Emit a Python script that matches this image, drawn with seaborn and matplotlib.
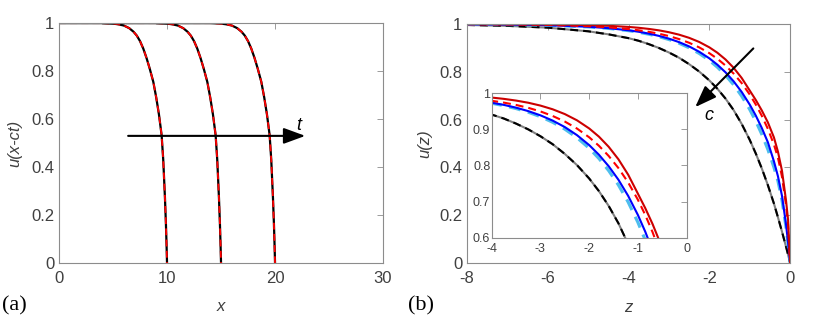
import numpy as np
import pandas as pd
import matplotlib
matplotlib.use("Agg")
import matplotlib.pyplot as plt
import seaborn as sns

### Data ###
# panel (a): one front profile, shifted to three front positions
front_positions = [10, 15, 20]
profile_z = [-20, -6, -5, -4.5, -4, -3.5, -3.1, -2.8, -2.5, -2.2, -1.9, -1.6,
             -1.27, -1.0, -0.75, -0.5, -0.35, -0.19, -0.1, -0.04, 0]
profile_u = [1.0, 1.0, 0.998, 0.995, 0.99, 0.979, 0.964, 0.948, 0.925, 0.894, 0.855, 0.81,
             0.755, 0.69, 0.62, 0.533, 0.43, 0.27, 0.16, 0.07, 0.0]

# panel (b): travelling wave profiles u(z) for three speeds c
z_b = [-8, -7, -6, -5, -4.5, -4, -3.75, -3.5, -3.25, -3, -2.75, -2.5, -2.25, -2,
       -1.8, -1.6, -1.4, -1.2, -1.0, -0.85, -0.7, -0.55, -0.4, -0.3, -0.2, -0.1, -0.05, 0]
u_red = [0.9998, 0.9995, 0.9985, 0.9958, 0.9929, 0.9881, 0.9845, 0.9798, 0.9738, 0.9659, 0.9557,
         0.9424, 0.9251, 0.9026, 0.8799, 0.8518, 0.8172, 0.7745, 0.7218, 0.682, 0.638, 0.588,
         0.525, 0.465, 0.385, 0.26, 0.18, 0.0]
u_red_dash = [0.9994, 0.9985, 0.9964, 0.9914, 0.9866, 0.9792, 0.9741, 0.9677, 0.9597, 0.9497, 0.9372,
              0.9217, 0.9023, 0.8781, 0.8546, 0.8264, 0.7929, 0.7529, 0.705, 0.6631, 0.6155, 0.5609,
              0.495, 0.44, 0.36, 0.24, 0.16, 0.0]
u_blue = [0.9991, 0.998, 0.9953, 0.9889, 0.983, 0.974, 0.9678, 0.9601, 0.9506, 0.9389, 0.9244, 0.9064,
          0.884, 0.8565, 0.8297, 0.798, 0.7605, 0.7158, 0.6628, 0.6168, 0.5644, 0.5048, 0.425, 0.362,
          0.28, 0.16, 0.085, 0.0]
u_blue_dash = [0.999, 0.9979, 0.995, 0.9882, 0.982, 0.9724, 0.9658, 0.9577, 0.9476, 0.9352, 0.9198,
               0.9007, 0.877, 0.8478, 0.8194, 0.7858, 0.746, 0.6986, 0.6424, 0.5936, 0.538, 0.4748,
               0.40, 0.342, 0.262, 0.148, 0.078, 0.0]
u_gray = [0.9963, 0.9926, 0.985, 0.9698, 0.9571, 0.941, 0.930, 0.916, 0.90, 0.881, 0.859, 0.832, 0.801,
          0.764, 0.729, 0.688, 0.64, 0.582, 0.515, 0.458, 0.395, 0.325, 0.248, 0.19, 0.13, 0.067,
          0.034, 0.0]

# ticks
a_xticks = [0, 10, 20, 30]
a_xlabels = ["0", "10", "20", "30"]
unit_yticks = [0, 0.2, 0.4, 0.6, 0.8, 1]
unit_ylabels = ["0", "0.2", "0.4", "0.6", "0.8", "1"]
b_xticks = [-8, -6, -4, -2, 0]
b_xlabels = ["-8", "-6", "-4", "-2", "0"]
in_xticks = [-4, -3, -2, -1, 0]
in_xlabels = ["-4", "-3", "-2", "-1", "0"]
in_yticks = [0.6, 0.7, 0.8, 0.9, 1]
in_ylabels = ["0.6", "0.7", "0.8", "0.9", "1"]

sns.set_theme(style="white")
plt.rcParams["font.family"] = ["Liberation Sans", "DejaVu Sans"]

SPINE = "#8c8c8c"
TXT = "#404040"
DASH = (0, (3.8, 2.4))


def style_axes(ax, size, xpad, ypad):
    for s in ax.spines.values():
        s.set_color(SPINE)
        s.set_linewidth(0.8)
        s.set_visible(True)
    ax.tick_params(direction="in", top=True, right=True, length=4, width=0.6,
                   color=SPINE, labelcolor=TXT, labelsize=size)
    ax.tick_params(axis="x", pad=xpad)
    ax.tick_params(axis="y", pad=ypad)
    ax.grid(False)
    ax.set_xlabel("")
    ax.set_ylabel("")


def draw_b_curves(ax, lw):
    sns.lineplot(x=z_b, y=u_gray, ax=ax, color="#808080", lw=lw, estimator=None, sort=False)
    sns.lineplot(x=z_b, y=u_gray, ax=ax, color="black", lw=lw, linestyle=DASH,
                 estimator=None, sort=False)
    sns.lineplot(x=z_b, y=u_blue_dash, ax=ax, color="#4DBEEE", lw=lw * 1.5, linestyle=DASH,
                 estimator=None, sort=False)
    sns.lineplot(x=z_b, y=u_blue, ax=ax, color="#0000FF", lw=lw, estimator=None, sort=False)
    sns.lineplot(x=z_b, y=u_red_dash, ax=ax, color="#FF0000", lw=lw, linestyle=DASH,
                 estimator=None, sort=False)
    sns.lineplot(x=z_b, y=u_red, ax=ax, color="#CC0000", lw=lw, estimator=None, sort=False)


fig = plt.figure(figsize=(8.3, 3.19), dpi=100)
ax_a = fig.add_axes([0.0711, 0.1755, 0.3904, 0.752])
ax_b = fig.add_axes([0.5627, 0.1765, 0.3892, 0.748])
ax_in = fig.add_axes([0.5924, 0.2549, 0.2349, 0.4527])

# panel (a)
prof = pd.DataFrame({"z": profile_z, "u": profile_u})
for x0 in front_positions:
    d = prof.assign(x=prof["z"] + x0)
    d = d[d["x"] >= -1]
    sns.lineplot(data=d, x="x", y="u", ax=ax_a, color="black", lw=1.6,
                 estimator=None, sort=False)
    sns.lineplot(data=d, x="x", y="u", ax=ax_a, color="#FF0000", lw=1.3, linestyle=DASH,
                 estimator=None, sort=False)
ax_a.set_xlim(0, 30)
ax_a.set_ylim(0, 1)
ax_a.set_xticks(a_xticks, a_xlabels)
ax_a.set_yticks(unit_yticks, unit_ylabels)
style_axes(ax_a, 12, 6, 3.5)
ax_a.annotate("", xy=(22.8, 0.53), xytext=(6.4, 0.53),
              arrowprops=dict(arrowstyle="-|>,head_length=0.6,head_width=0.22",
                              color="black", lw=1.5, mutation_scale=22,
                              shrinkA=0, shrinkB=0))
ax_a.text(22.2, 0.575, "t", style="italic", fontsize=13, color="black",
          ha="center", va="center")
ax_a.text(0.5, -0.183, "x", transform=ax_a.transAxes, style="italic", fontsize=12,
          color=TXT, ha="center", va="center")
ax_a.text(-0.136, 0.5, "u(x-ct)", transform=ax_a.transAxes, style="italic", fontsize=12,
          color=TXT, ha="center", va="center", rotation=90)

# panel (b)
draw_b_curves(ax_b, 1.5)
ax_b.set_xlim(-8, 0)
ax_b.set_ylim(0, 1)
ax_b.set_xticks(b_xticks, b_xlabels)
ax_b.set_yticks(unit_yticks, unit_ylabels)
style_axes(ax_b, 12, 6, 3.5)
ax_b.annotate("", xy=(-2.35, 0.652), xytext=(-0.91, 0.898),
              arrowprops=dict(arrowstyle="-|>,head_length=0.6,head_width=0.22",
                              color="black", lw=1.5, mutation_scale=22,
                              shrinkA=0, shrinkB=0))
ax_b.text(-2.02, 0.615, "c", style="italic", fontsize=13, color="black",
          ha="center", va="center")
ax_b.text(0.5, -0.186, "z", transform=ax_b.transAxes, style="italic", fontsize=12,
          color=TXT, ha="center", va="center")
ax_b.text(-0.130, 0.5, "u(z)", transform=ax_b.transAxes, style="italic", fontsize=12,
          color=TXT, ha="center", va="center", rotation=90)

# inset
ax_in.set_facecolor("white")
draw_b_curves(ax_in, 1.5)
ax_in.set_xlim(-4, 0)
ax_in.set_ylim(0.6, 1)
ax_in.set_xticks(in_xticks, in_xlabels)
ax_in.set_yticks(in_yticks, in_ylabels)
style_axes(ax_in, 9, 3.5, 1)

fig.text(0.0024, 0.041, "(a)", family="Liberation Serif", fontsize=16, color="black",
         ha="left", va="center")
fig.text(0.492, 0.041, "(b)", family="Liberation Serif", fontsize=16, color="black",
         ha="left", va="center")

fig.savefig("out.png", dpi=100)
